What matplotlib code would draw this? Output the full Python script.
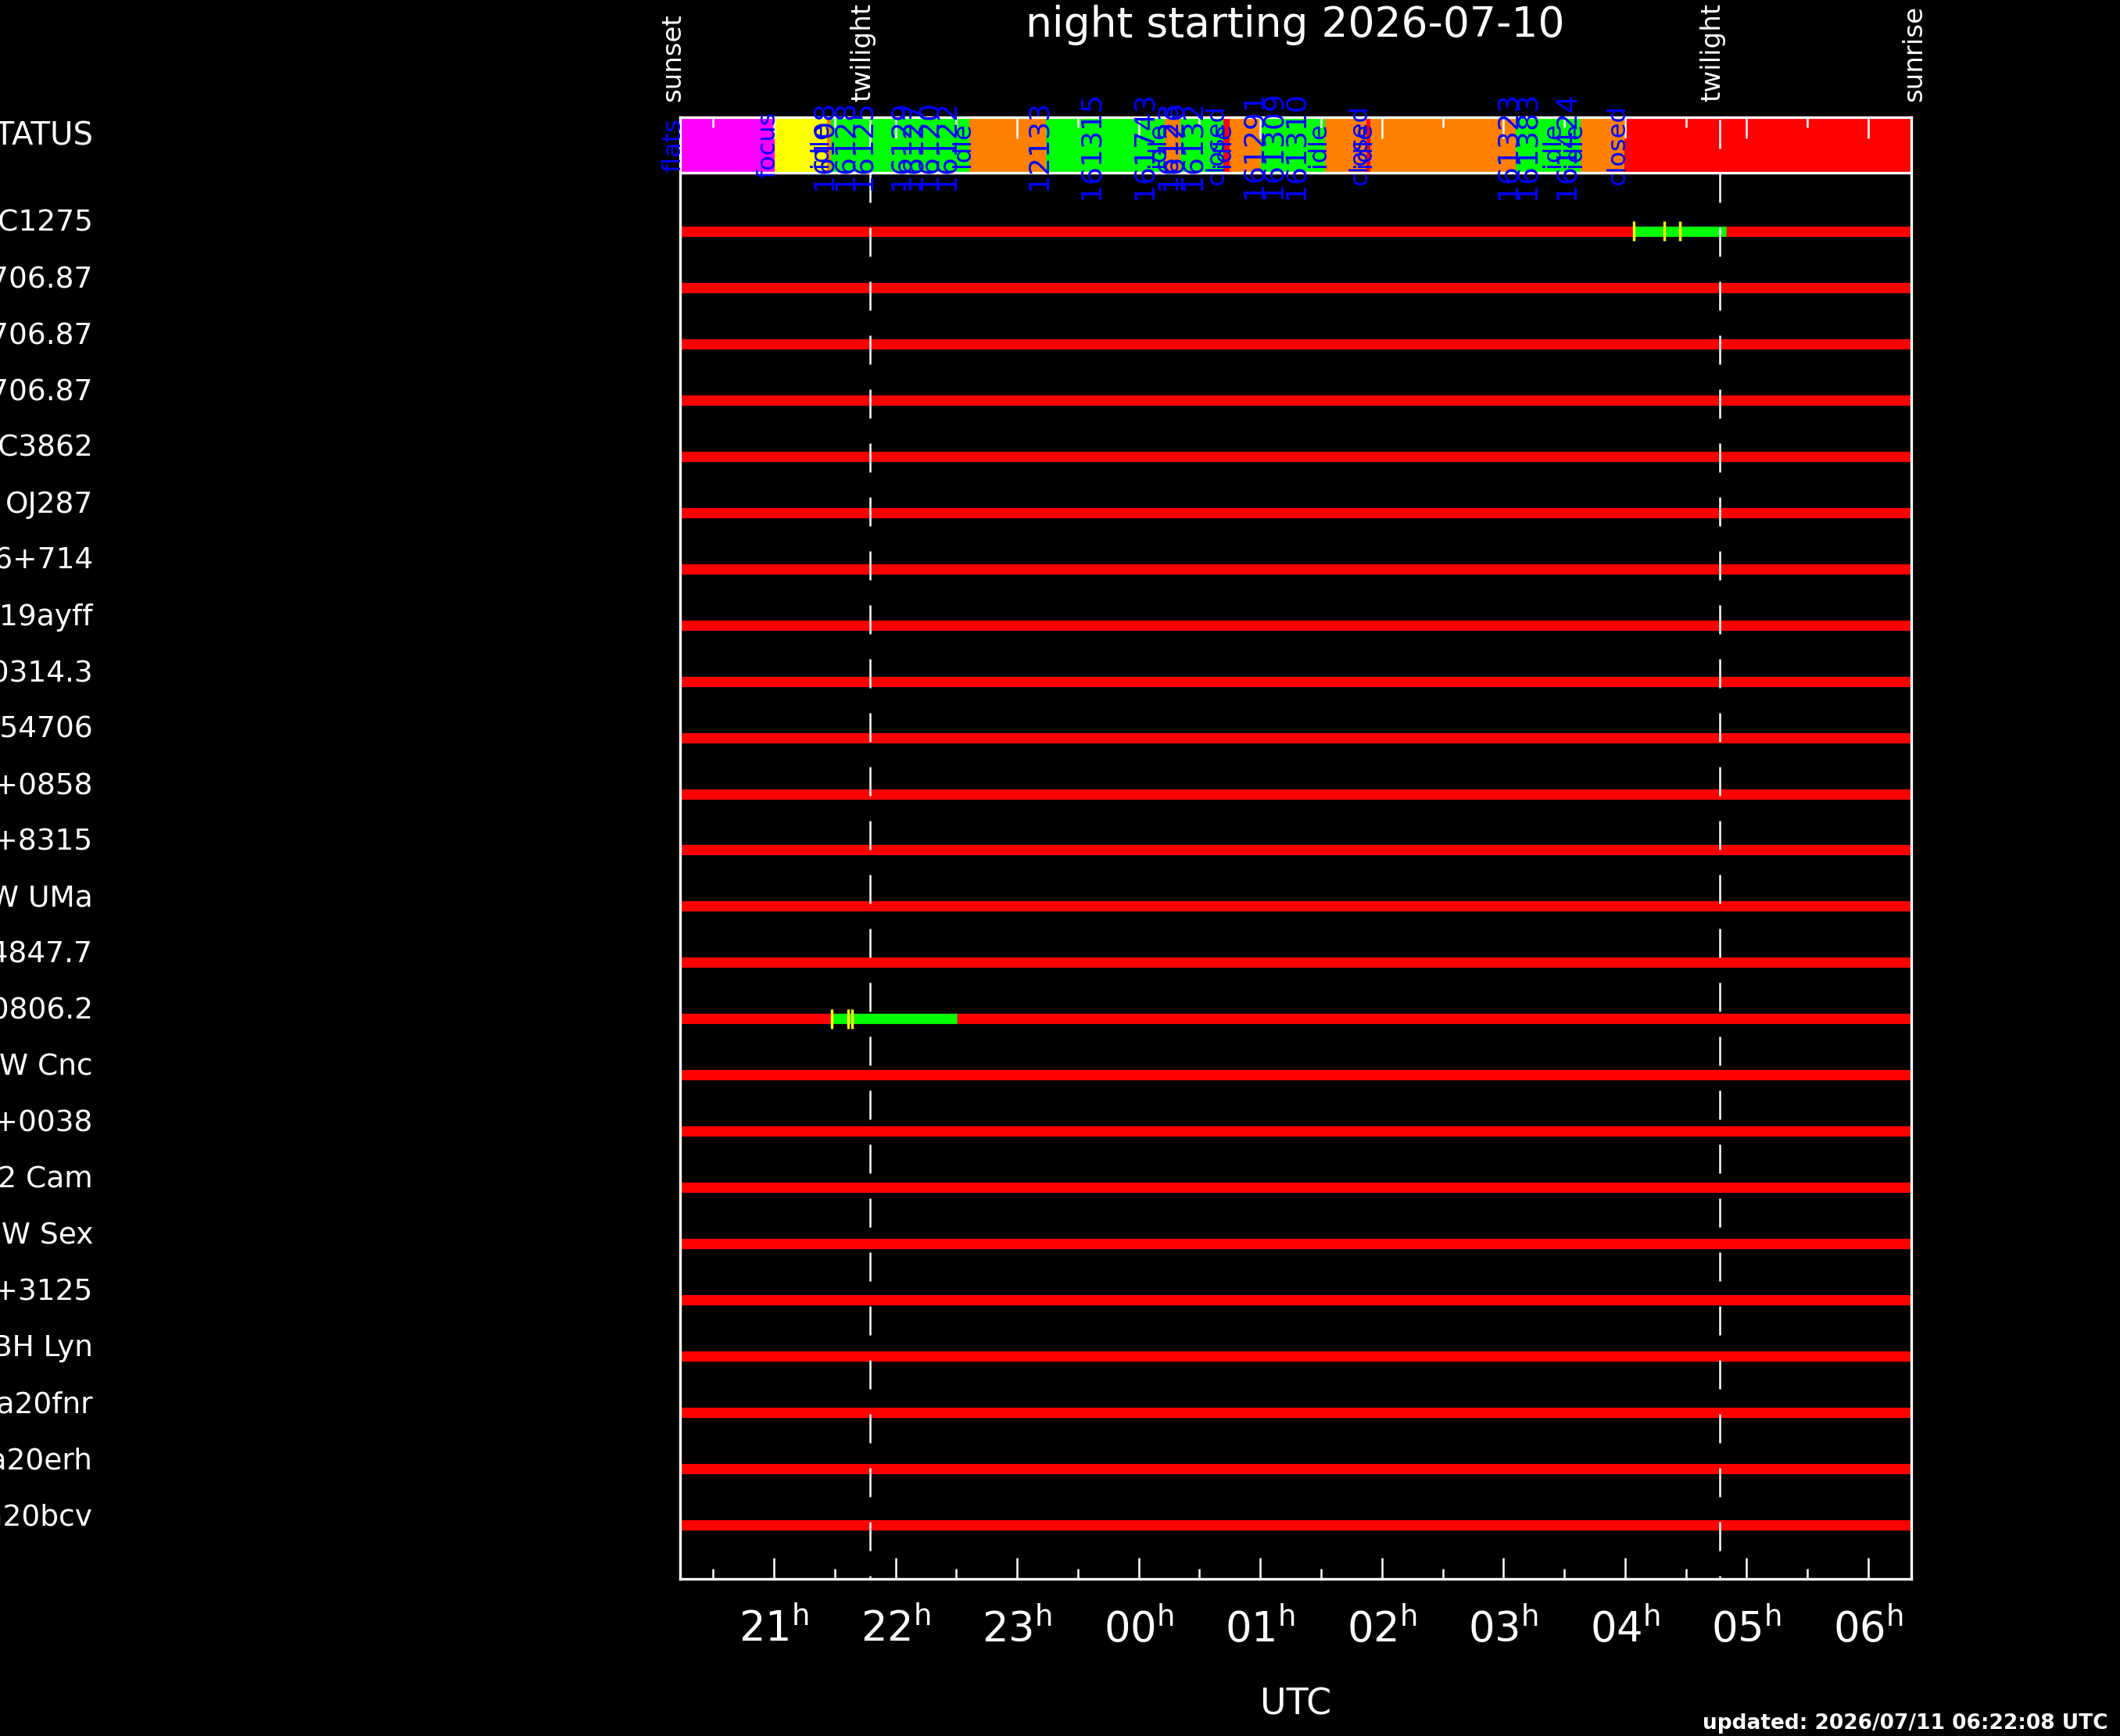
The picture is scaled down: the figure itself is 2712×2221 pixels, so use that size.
import matplotlib
matplotlib.use("Agg")
import matplotlib.pyplot as plt
import matplotlib.transforms as mtransforms

# ---- data (hours UTC, counted from the evening's midnight; >24 is next day)
night = "2026-07-10"
updated = "updated: 2026/07/11 06:22:08 UTC"

sun_times = [20.228, 21.79, 28.78, 30.44]
sun_labels = ["sunset", "twilight", "twilight", "sunrise"]
twilight_times = [21.79, 28.78]

status_start = [20.228, 21.006, 21.437, 21.469, 22.608, 23.238, 24.215, 24.344,
                24.698, 24.749, 25.006, 25.534, 25.875, 25.907, 27.10, 27.637, 27.997]
status_state = ["flats", "focus", "idle", "obs", "idle", "obs", "idle", "obs",
                "closed", "idle", "obs", "idle", "closed", "idle", "obs", "idle", "closed"]
status_end = 30.354

event_times = [20.228, 21.006, 21.437, 21.469, 21.643, 21.791, 22.106, 22.203,
               22.331, 22.479, 22.608, 23.238, 23.669, 24.106, 24.215, 24.30,
               24.344, 24.505, 24.698, 24.749, 25.006, 25.167, 25.354, 25.534,
               25.875, 25.907, 27.096, 27.257, 27.46, 27.579, 27.637, 27.997]
event_labels = ["flats", "focus", "idle", "16108", "16128", "16125", "16129", "16127",
                "16120", "16122", "idle", "12133", "161315", "161743", "idle", "16123",
                "16126", "16132", "closed", "idle", "161291", "161309", "161310", "idle",
                "closed", "idle", "161323", "161383", "idle", "161424", "idle", "closed"]

targets = ["NGC1275", "J1706.87", "J1706.87", "J1706.87", "NGC3862", "OJ287",
           "S5 0716+714", "ZTF19ayff", "RX J0314.3", "HIP 54706", "J1118+0858",
           "J0432+8315", "W UMa", "J154847.7", "RX J0806.2", "W Cnc", "J1030+0038",
           "V1062 Cam", "SW Sex", "J0905+3125", "BH Lyn", "Gaia20fnr", "Gaia20erh",
           "Gaia20bcv"]

# observed windows: (row index, start, end) and exposure marks
obs_row = [0, 14]
obs_start = [28.069, 21.474]
obs_end = [28.828, 22.505]
mark_row = [0, 0, 0, 14, 14, 14]
mark_time = [28.069, 28.323, 28.448, 21.474, 21.613, 21.643]

hour_ticks = [21, 22, 23, 24, 25, 26, 27, 28, 29, 30]
hour_labels = ["21", "22", "23", "00", "01", "02", "03", "04", "05", "06"]

state_colors = {"flats": "#ff00ff", "focus": "#ffff00", "idle": "#ff8000",
                "obs": "#00ff00", "closed": "#ff0000"}

# ---- layout (pixels of the 2712x2221 canvas)
W, H = 2712, 2221
ROW_PX = 71.97
ROW1_PX = 295.8


def py(pix):
    """pixel row -> data y"""
    return 1 + (pix - ROW1_PX) / ROW_PX


fig = plt.figure(figsize=(W / 100, H / 100), dpi=100, facecolor="black")
ax = fig.add_axes([870 / W, (H - 2020) / H, (2445 - 870) / W, (2020 - 150) / H])
ax.set_facecolor("black")
ax.set_xlim(20.228, 30.354)
ax.set_ylim(py(2020), py(150))

bar_top, bar_bot = py(150), py(221)
bar_mid = 0.5 * (bar_top + bar_bot)

# status bar
ends = status_start[1:] + [status_end]
for s, e, st in zip(status_start, ends, status_state):
    ax.broken_barh([(s, e - s)], (bar_top, bar_bot - bar_top),
                   facecolors=state_colors[st], zorder=1)
ax.axhline(bar_bot, color="white", lw=2.4, zorder=3)

for t, lab in zip(event_times, event_labels):
    size = 26 if lab.isdigit() else 23
    ax.text(t, bar_mid, lab, rotation=90, rotation_mode="anchor", ha="center",
            va="baseline", color="#0000ff", fontsize=size, clip_on=False, zorder=6)

# target rows
rows = list(range(1, len(targets) + 1))
x0, x1 = ax.get_xlim()
ax.hlines(rows, x0, x1, colors="#ff0000", lw=9.5, zorder=2)
for r, s, e in zip(obs_row, obs_start, obs_end):
    ax.hlines(rows[r], s, e, colors="#00ff00", lw=9.5, zorder=2.5)
ax.vlines(mark_time, [rows[r] - 0.175 for r in mark_row],
          [rows[r] + 0.175 for r in mark_row], colors="#ffff00", lw=2.4, zorder=2.6)

# twilight dashes
ax.vlines(twilight_times, py(153), py(2020), colors="white", lw=1.8,
          linestyles=[(0, (14.8, 12.8))], zorder=4)

# left labels, clipped by the canvas edge
trans = mtransforms.blended_transform_factory(fig.transFigure, ax.transData)
ax.text(119 / W, bar_mid, "STATUS", transform=trans, ha="right", va="baseline",
        color="white", fontsize=29)
for r, name in zip(rows, targets):
    ax.text(119 / W, r, name, transform=trans, ha="right", va="baseline",
            color="white", fontsize=27)

# sun / twilight marks above the bar
for t, lab in zip(sun_times, sun_labels):
    ax.text(t, py(130), lab, rotation=90, rotation_mode="anchor", ha="left",
            va="baseline", color="white", fontsize=24.5, clip_on=False)

# axes styling
for sp in ax.spines.values():
    sp.set_color("white")
    sp.set_linewidth(2.4)
ax.set_yticks([])
ax.set_xticks(hour_ticks)
ax.set_xticks([h - 0.5 for h in hour_ticks], minor=True)
ax.set_xticklabels([f"{h}$^{{\\rm h}}$" for h in hour_labels])
ax.tick_params(axis="x", which="both", direction="in", top=True, bottom=True,
               colors="white", width=1.8, labelsize=38, pad=27)
ax.tick_params(axis="x", which="major", length=19.4)
ax.tick_params(axis="x", which="minor", length=9.4)

fig.text(1657 / W, 1 - 47 / H, f"night starting {night}", ha="center",
         va="baseline", color="white", fontsize=38.5)
fig.text(1658 / W, 1 - 2193 / H, "UTC", ha="center", va="baseline",
         color="white", fontsize=33)
fig.text(2697 / W, 1 - 2212 / H, updated, ha="right", va="baseline",
         color="white", fontsize=19, fontweight="bold")

fig.savefig("out.png", dpi=100, facecolor="black")
